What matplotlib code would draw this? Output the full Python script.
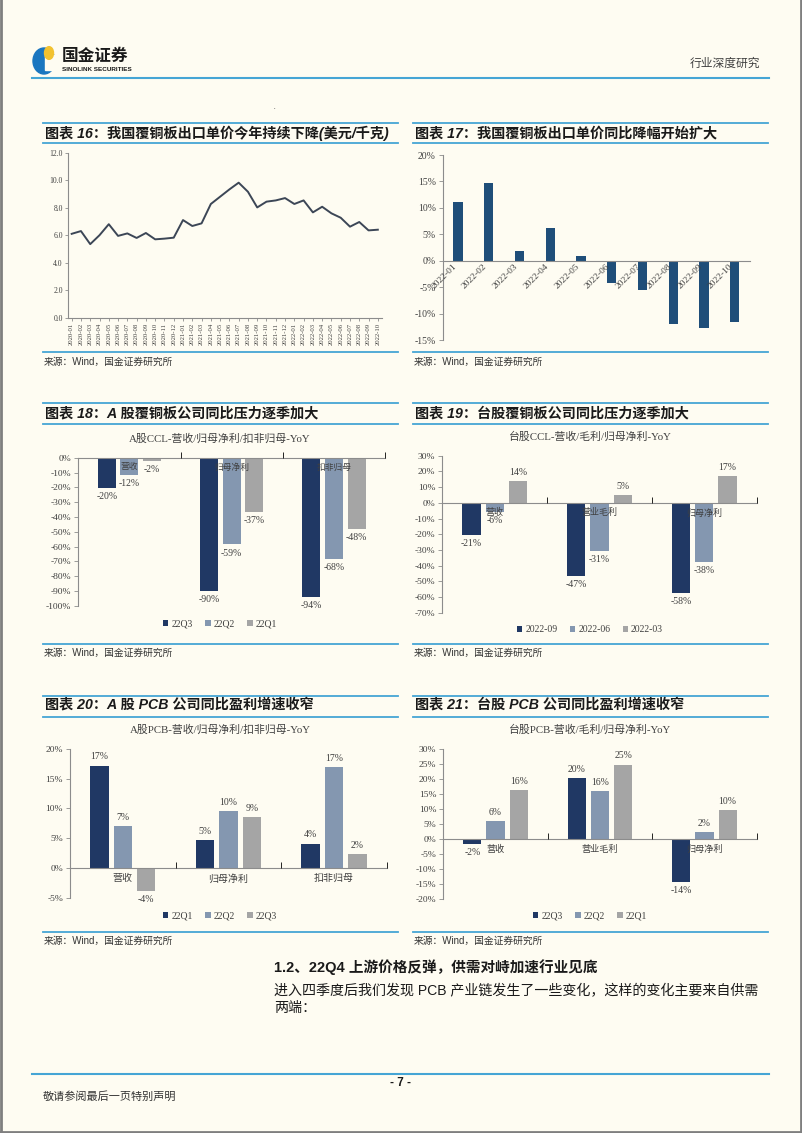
import matplotlib
matplotlib.use('Agg')
import matplotlib.pyplot as plt
from matplotlib.lines import Line2D
from matplotlib.patches import Ellipse, Rectangle, Circle
import numpy as np

W, H = 802, 1133
BG = '#fefcf2'
BLUE_LINE = '#45a5d5'
TXT = '#404040'
AXC = '#8c8c8c'
DARK = '#203864'
MID = '#8497b0'
GRAY = '#a5a5a5'

plt.rcParams['font.family'] = ['Liberation Serif', 'Noto Sans CJK SC']
plt.rcParams['axes.unicode_minus'] = False
SANS = ['Liberation Sans', 'Noto Sans CJK SC']

# 图表16：覆铜板出口单价（美元/千克）
months16 = ['2020-01', '2020-02', '2020-03', '2020-04', '2020-05', '2020-06',
            '2020-07', '2020-08', '2020-09', '2020-10', '2020-11', '2020-12',
            '2021-01', '2021-02', '2021-03', '2021-04', '2021-05', '2021-06',
            '2021-07', '2021-08', '2021-09', '2021-10', '2021-11', '2021-12',
            '2022-01', '2022-02', '2022-03', '2022-04', '2022-05', '2022-06',
            '2022-07', '2022-08', '2022-09', '2022-10']
price16 = [6.1, 6.3, 5.35, 6.0, 6.8, 5.95, 6.13, 5.8, 6.16, 5.7, 5.75, 5.82,
           7.1, 6.67, 6.86, 8.27, 8.8, 9.33, 9.82, 9.16, 8.02, 8.44, 8.53, 8.7,
           8.27, 8.53, 7.66, 8.07, 7.59, 7.27, 6.62, 6.96, 6.35, 6.4]

# 图表17：出口单价同比
months17 = ['2022-01', '2022-02', '2022-03', '2022-04', '2022-05',
            '2022-06', '2022-07', '2022-08', '2022-09', '2022-10']
yoy17 = [11.2, 14.7, 1.8, 6.1, 0.8, -4.3, -5.5, -12.0, -12.8, -11.6]

# 图表18：A股CCL
cats18 = ['营收', '归母净利', '扣非归母']
names18 = ['22Q3', '22Q2', '22Q1']
q3_18 = [-20.4, -90.1, -94.1]
q2_18 = [-11.7, -58.6, -68.4]
q1_18 = [-2.3, -36.7, -48.2]

# 图表19：台股CCL
cats19 = ['营收', '营业毛利', '归母净利']
names19 = ['2022-09', '2022-06', '2022-03']
s09_19 = [-20.6, -46.7, -57.6]
s06_19 = [-5.6, -30.6, -37.8]
s03_19 = [14.0, 4.9, 17.0]

# 图表20：A股PCB
cats20 = ['营收', '归母净利', '扣非归母']
names20 = ['22Q1', '22Q2', '22Q3']
q1_20 = [17.2, 4.7, 4.1]
q2_20 = [7.0, 9.6, 16.9]
q3_20 = [-3.8, 8.6, 2.3]

# 图表21：台股PCB
cats21 = ['营收', '营业毛利', '归母净利']
names21 = ['22Q3', '22Q2', '22Q1']
q3_21 = [-1.7, 20.2, -14.4]
q2_21 = [5.9, 16.0, 2.3]
q1_21 = [16.2, 24.8, 9.6]


def fx(px):
    return px / W


def fy(py):
    return 1 - py / H


fig = plt.figure(figsize=(W / 100, H / 100), dpi=100, facecolor=BG)


def hline(x0, x1, y, color=BLUE_LINE, lw=1.3):
    fig.add_artist(Line2D([fx(x0), fx(x1)], [fy(y), fy(y)], color=color,
                          lw=lw, transform=fig.transFigure))


def add_ax(x0, x1, ytop, ybot):
    ax = fig.add_axes([fx(x0), fy(ybot), fx(x1) - fx(x0), (ybot - ytop) / H])
    ax.set_facecolor('none')
    ax.set_axisbelow(False)
    for s in ['top', 'right']:
        ax.spines[s].set_visible(False)
    for s in ['left', 'bottom']:
        ax.spines[s].set_color(AXC)
        ax.spines[s].set_linewidth(0.8)
    ax.tick_params(colors=AXC, labelcolor=TXT)
    return ax


# ---- page frame / header / footer
fig.add_artist(Line2D([0.001, 0.001], [0, 1], color='#7f7f7f', lw=2, transform=fig.transFigure))
fig.add_artist(Line2D([0.999, 0.999], [0, 1], color='#7f7f7f', lw=2, transform=fig.transFigure))
fig.add_artist(Line2D([0, 1], [0.001, 0.001], color='#7f7f7f', lw=2, transform=fig.transFigure))

fig.add_artist(Ellipse((fx(44), fy(61)), fx(22), 26 / H, color='#1a76c0', transform=fig.transFigure))
fig.add_artist(Rectangle((fx(45), fy(70)), fx(12), 15 / H, color=BG, transform=fig.transFigure))
fig.add_artist(Circle((fx(49), fy(53)), fx(4.5), color='#f2c230', transform=fig.transFigure))
fig.text(fx(62), fy(56), '国金证券', fontsize=12, fontweight='bold', color='#1a1a1a',
         family=SANS, va='center', ha='left')
fig.text(fx(62), fy(69.5), 'SINOLINK SECURITIES', fontsize=4.6, fontweight='bold',
         color='#1a1a1a', family=SANS, va='center', ha='left')
fig.text(fx(760), fy(64), '行业深度研究', fontsize=8.5, color=TXT, family=SANS,
         va='center', ha='right')
hline(32, 769, 78, lw=1.5)
fig.text(fx(275), fy(109), '•', fontsize=3, color='#666666', ha='center', va='center')

hline(32, 769, 1074, lw=1.5)
fig.text(fx(401), fy(1083), '- 7 -', fontsize=8.5, fontweight='bold', family=SANS,
         ha='center', va='center', color='#1a1a1a')
fig.text(fx(43), fy(1097), '敬请参阅最后一页特别声明', fontsize=8, family=SANS,
         ha='left', va='center', color='#333333')

fig.text(fx(274), fy(967), '1.2、22Q4 上游价格反弹，供需对峙加速行业见底', fontsize=10.5,
         fontweight='bold', family=SANS, ha='left', va='center', color='#1a1a1a')
fig.text(fx(274), fy(991), '进入四季度后我们发现 PCB 产业链发生了一些变化，这样的变化主要来自供需',
         fontsize=10.1, family=SANS, ha='left', va='center', color='#1a1a1a')
fig.text(fx(274), fy(1008), '两端：', fontsize=10.1, family=SANS, ha='left', va='center',
         color='#1a1a1a')

# ---- title bars and sources
titles = [
    (43, 398, 123, 133, 143, '图表 16：我国覆铜板出口单价今年持续下降(美元/千克)'),
    (413, 768, 123, 133, 143, '图表 17：我国覆铜板出口单价同比降幅开始扩大'),
    (43, 398, 403, 413, 424, '图表 18：A 股覆铜板公司同比压力逐季加大'),
    (413, 768, 403, 413, 424, '图表 19：台股覆铜板公司同比压力逐季加大'),
    (43, 398, 696, 704, 717, '图表 20：A 股 PCB 公司同比盈利增速收窄'),
    (413, 768, 696, 704, 717, '图表 21：台股 PCB 公司同比盈利增速收窄'),
]
for x0, x1, yl1, yt, yl2, t in titles:
    hline(x0, x1, yl1)
    hline(x0, x1, yl2)
    fig.text(fx(x0 + 2), fy(yt), t, fontsize=10.2, fontweight='bold', style='italic',
             family=SANS, ha='left', va='center', color='#1a1a1a')

for ys_line, ys_txt in [(352, 362), (644, 653), (932, 941)]:
    for x0, x1 in [(43, 398), (413, 768)]:
        hline(x0, x1, ys_line)
        fig.text(fx(x0 + 1), fy(ys_txt), '来源：Wind，国金证券研究所', fontsize=7,
                 family=SANS, ha='left', va='center', color='#333333')

# ---- 图表16
ax = add_ax(67.5, 382, 152.7, 317.7)
x16 = np.arange(len(months16))
ax.plot(x16, price16, color='#3c4656', lw=1.4, solid_joinstyle='round')
ax.set_ylim(0, 12)
ax.set_yticks(np.arange(0, 12.1, 2))
ax.set_yticklabels([f'{v:.1f}' for v in np.arange(0, 12.1, 2)], fontsize=5.5)
ax.set_xlim(-0.45, len(months16) - 0.55)
ax.set_xticks(x16)
ax.set_xticklabels(months16, rotation=90, fontsize=4.8)
ax.tick_params(axis='both', length=2, width=0.6, pad=1.5)

# ---- 图表17
ax = add_ax(442.7, 750, 155, 340)
x17 = np.arange(len(months17))
ax.bar(x17, yoy17, 0.3, color='#1f4e79')
ax.set_ylim(-15, 20)
ax.set_xlim(-0.5, len(months17) - 0.5)
ax.set_yticks(np.arange(-15, 21, 5))
ax.set_yticklabels([f'{v}%' for v in range(-15, 21, 5)], fontsize=7)
ax.spines['bottom'].set_position(('data', 0))
ax.set_xticks(x17)
ax.set_xticklabels(months17, rotation=45, ha='right', fontsize=6.8)
ax.tick_params(axis='x', length=0, pad=1)
ax.tick_params(axis='y', length=3, width=0.6, pad=2)


def grouped(ax, cats, names, vals, colors, ylim, step, title, ytitle, xc, yleg, catsize):
    x = np.arange(len(cats))
    offs = [-0.222, 0.0, 0.222]
    for name, v, c, o in zip(names, vals, colors, offs):
        bars = ax.bar(x + o, v, 0.175, color=c, label=name, zorder=1)
        for b, val in zip(bars, v):
            ax.annotate(f'{val:.0f}%', (b.get_x() + b.get_width() / 2, val),
                        xytext=(0, 3 if val >= 0 else -3), textcoords='offset points',
                        ha='center', va='bottom' if val >= 0 else 'top',
                        fontsize=7, color=TXT)
    ax.set_ylim(*ylim)
    ax.set_xlim(-0.5, len(cats) - 0.5)
    ticks = np.arange(ylim[0], ylim[1] + 0.1, step)
    ax.set_yticks(ticks)
    ax.set_yticklabels([f'{t:.0f}%' for t in ticks], fontsize=6.8)
    ax.spines['bottom'].set_position(('data', 0))
    ax.set_xticks(x)
    ax.set_xticklabels(cats, fontsize=catsize)
    ax.set_xticks(np.arange(0.5, len(cats), 1), minor=True)
    ax.tick_params(axis='x', which='major', length=0, pad=4)
    ax.tick_params(axis='x', which='minor', length=4, direction='in', width=0.6)
    ax.tick_params(axis='y', length=3, width=0.6, pad=2)
    fig.text(fx(xc), fy(ytitle), title, fontsize=7.8, color=TXT, ha='center', va='center')
    ax.legend(loc='center', bbox_to_anchor=(fx(xc), fy(yleg)), bbox_transform=fig.transFigure,
              ncol=3, frameon=False, fontsize=7, handlelength=0.55, handleheight=0.55,
              handletextpad=0.3, columnspacing=1.3, labelcolor=TXT)


cols = [DARK, MID, GRAY]

ax = add_ax(78.3, 385, 457.7, 605.7)
grouped(ax, cats18, names18, [q3_18, q2_18, q1_18], cols, (-100, 0), 10,
        'A股CCL-营收/归母净利/扣非归母-YoY', 439, 220, 624, 6.3)

ax = add_ax(442.3, 756.7, 455.7, 612.7)
grouped(ax, cats19, names19, [s09_19, s06_19, s03_19], cols, (-70, 30), 10,
        '台股CCL-营收/毛利/归母净利-YoY', 437, 590, 630, 6.5)

ax = add_ax(70, 386.7, 749, 897.7)
grouped(ax, cats20, names20, [q1_20, q2_20, q3_20], cols, (-5, 20), 5,
        'A股PCB-营收/归母净利/扣非归母-YoY', 730, 220, 916, 7.2)

ax = add_ax(443.3, 756.7, 749, 899)
grouped(ax, cats21, names21, [q3_21, q2_21, q1_21], cols, (-20, 30), 5,
        '台股PCB-营收/毛利/归母净利-YoY', 730, 590, 916, 6.6)

fig.savefig('out.png', dpi=100, facecolor=BG)
